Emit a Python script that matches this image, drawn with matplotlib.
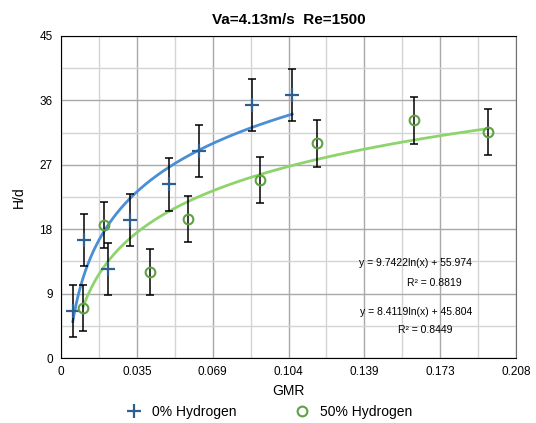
import numpy as np
import matplotlib
matplotlib.use("Agg")
import matplotlib.pyplot as plt
from matplotlib.ticker import FixedLocator

plt.rcParams["font.family"] = ["Liberation Sans", "DejaVu Sans"]

# 0% Hydrogen
gmr_0 = [0.0054, 0.0107, 0.0216, 0.0315, 0.0494, 0.0631, 0.0875, 0.1057]
hd_0 = [6.6, 16.5, 12.4, 19.3, 24.3, 28.9, 35.4, 36.8]
err_0 = [3.6, 3.6, 3.65, 3.65, 3.7, 3.65, 3.65, 3.65]

# 50% Hydrogen
gmr_50 = [0.0102, 0.0198, 0.0407, 0.0582, 0.0910, 0.1169, 0.1615, 0.1953]
hd_50 = [7.0, 18.6, 12.0, 19.4, 24.9, 30.0, 33.2, 31.6]
err_50 = [3.2, 3.25, 3.2, 3.25, 3.2, 3.25, 3.25, 3.2]

# log trendlines y = a*ln(x) + b
fit_0 = (9.7422, 55.974, 0.8819)
fit_50 = (8.4119, 45.804, 0.8449)

x_ticks = ["0", "0.035", "0.069", "0.104", "0.139", "0.173", "0.208"]
y_ticks = [0, 9, 18, 27, 36, 45]

blue_line = "#4a8fd6"
blue_mark = "#2e5f8f"
green_line = "#8ed46c"
green_mark = "#5ea144"

fig = plt.figure(figsize=(5.36, 4.23), dpi=100)
ax = fig.add_axes([61 / 536, 65 / 423, 455 / 536, 322 / 423])

xmax = 0.208
xt = np.linspace(0, xmax, len(x_ticks))
ax.set_xlim(0, xmax)
ax.set_ylim(0, 45)
ax.xaxis.set_major_locator(FixedLocator(xt))
ax.xaxis.set_minor_locator(FixedLocator(xt[:-1] + xt[1] / 2))
ax.yaxis.set_major_locator(FixedLocator(y_ticks))
ax.yaxis.set_minor_locator(FixedLocator(np.array(y_ticks[:-1]) + 4.5))
ax.set_xticklabels(x_ticks)
ax.grid(which="major", color="#a8a8a8", lw=1.0)
ax.grid(which="minor", color="#d4d4d4", lw=1.0)
ax.set_axisbelow(True)
ax.tick_params(which="both", length=0, labelsize=8.5, pad=6)
for s in ["left", "bottom", "top"]:
    ax.spines[s].set_color("black")
ax.spines["right"].set_color("#707070")

# trendlines
for gx, fit, col in [(gmr_0, fit_0, blue_line), (gmr_50, fit_50, green_line)]:
    xs = np.linspace(min(gx), max(gx), 300)
    ax.plot(xs, fit[0] * np.log(xs) + fit[1], color=col, lw=2, zorder=2)

ax.errorbar(gmr_0, hd_0, yerr=err_0, fmt="none", ecolor="black", elinewidth=1.1,
            capsize=3, capthick=1.1, zorder=3)
ax.errorbar(gmr_50, hd_50, yerr=err_50, fmt="none", ecolor="black", elinewidth=1.1,
            capsize=3, capthick=1.1, zorder=3)
ax.plot(gmr_0, hd_0, "+", color=blue_mark, ms=10, mew=1.6, ls="none",
        label="0% Hydrogen", zorder=4)
ax.plot(gmr_50, hd_50, "o", color=green_mark, mfc="none", ms=7, mew=1.5, ls="none",
        label="50% Hydrogen", zorder=4)

# equations
ax.text(0.78, 0.295, f"y = {fit_0[0]:.4f}ln(x) + {fit_0[1]:.3f}", transform=ax.transAxes,
        ha="center", va="center", fontsize=7.5)
ax.text(0.82, 0.233, f"R² = {fit_0[2]:.4f}", transform=ax.transAxes,
        ha="center", va="center", fontsize=7.5)
ax.text(0.78, 0.143, f"y = {fit_50[0]:.4f}ln(x) + {fit_50[1]:.3f}", transform=ax.transAxes,
        ha="center", va="center", fontsize=7.5)
ax.text(0.80, 0.087, f"R² = {fit_50[2]:.4f}", transform=ax.transAxes,
        ha="center", va="center", fontsize=7.5)

ax.set_title("Va=4.13m/s  Re=1500", fontsize=11, fontweight="bold", pad=9)
ax.set_xlabel("GMR", fontsize=10, labelpad=4)
ax.set_ylabel("H/d", fontsize=10, labelpad=10)

fig.legend(loc="center", bbox_to_anchor=(0.5, 11 / 423), ncol=2, frameon=False,
           fontsize=10, columnspacing=4.0, handletextpad=0.5, handlelength=1.5)

fig.savefig("out.png", dpi=100)
